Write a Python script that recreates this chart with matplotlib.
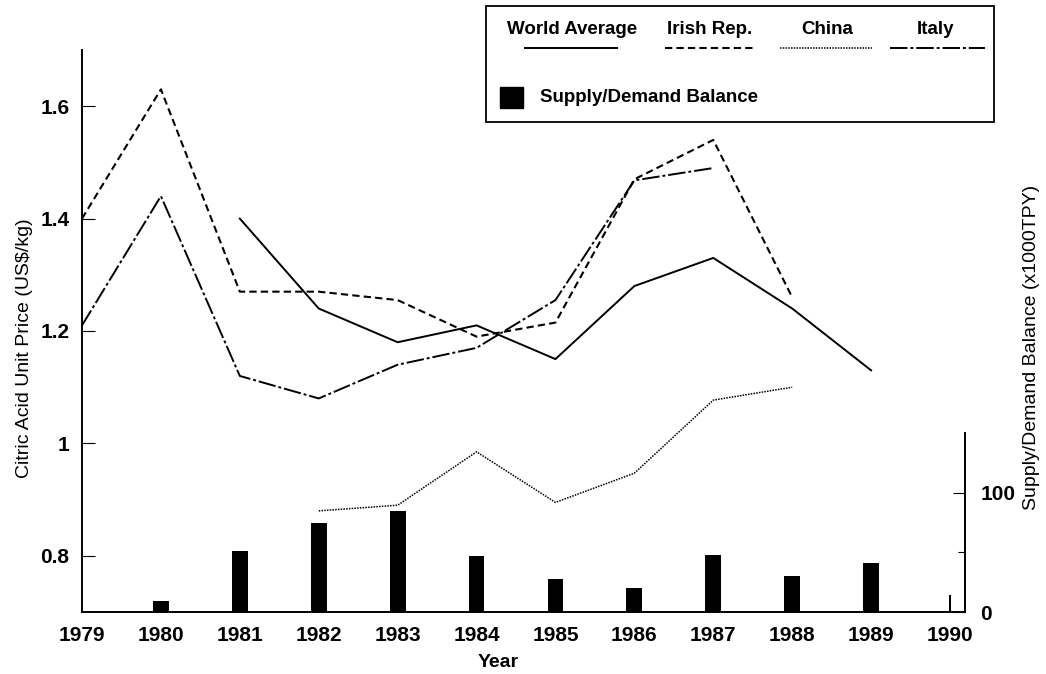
import numpy as np
import matplotlib
matplotlib.use("Agg")
import matplotlib.pyplot as plt
from matplotlib.lines import Line2D
from matplotlib.patches import Rectangle
from matplotlib.ticker import FixedLocator

plt.rcParams['font.family'] = ['Liberation Sans', 'DejaVu Sans']

# data
years = list(range(1979, 1991))
world_years = [1981, 1982, 1983, 1984, 1985, 1986, 1987, 1988, 1989]
world_avg = [1.40, 1.24, 1.18, 1.21, 1.15, 1.28, 1.33, 1.24, 1.13]
irish_years = [1979, 1980, 1981, 1982, 1983, 1984, 1985, 1986, 1987, 1988]
irish = [1.40, 1.63, 1.27, 1.27, 1.255, 1.19, 1.215, 1.47, 1.54, 1.26]
china_years = [1982, 1983, 1984, 1985, 1986, 1987, 1988]
china = [0.88, 0.89, 0.985, 0.895, 0.947, 1.077, 1.10]
italy_years = [1979, 1980, 1981, 1982, 1983, 1984, 1985, 1986, 1987]
italy = [1.21, 1.44, 1.12, 1.08, 1.14, 1.17, 1.255, 1.468, 1.49]
bal_years = [1980, 1981, 1982, 1983, 1984, 1985, 1986, 1987, 1988, 1989, 1990]
balance = [9, 51, 75, 85, 47, 28, 20, 48, 30, 41, 14]

W, H = 1046, 674
fig = plt.figure(figsize=(W / 100, H / 100), dpi=100)
ax = fig.add_axes([82 / W, 1 - 612 / H, (965 - 82) / W, (612 - 50) / H])
ax2 = ax.twinx()

styles = {
    'world': dict(color='black', lw=1.4, ls='-'),
    'irish': dict(color='black', lw=1.5, ls=(0, (3.5, 2))),
    'china': dict(color='black', lw=1.1, ls=(0, (1, 0.8))),
    'italy': dict(color='black', lw=1.4, ls=(0, (9, 1.5, 1.5, 1.5))),
}

widths = [0.2] * (len(bal_years) - 1) + [0.025]
ax2.bar(bal_years, balance, width=widths, color='black', zorder=1)

ax.plot(world_years, world_avg, **styles['world'])
ax.plot(irish_years, irish, **styles['irish'])
ax.plot(china_years, china, **styles['china'])
ax.plot(italy_years, italy, **styles['italy'])
ax.set_zorder(ax2.get_zorder() + 1)
ax.patch.set_visible(False)

tick_font = dict(fontsize=15, fontweight='bold')
ax.set_xlim(1979, 1990.19)
ax.set_ylim(0.7, 1.7)
ax.set_xticks(years)
ax.set_xticklabels([str(y) for y in years], **tick_font)
ax.set_yticks([0.8, 1.0, 1.2, 1.4, 1.6])
ax.set_yticklabels(['0.8', '1', '1.2', '1.4', '1.6'], **tick_font)
ax.tick_params(axis='x', length=0, pad=10)
ax.tick_params(axis='y', direction='in', length=9, width=0.8, pad=9)
for s in ['top', 'right']:
    ax.spines[s].set_visible(False)
ax.spines['left'].set_linewidth(1.4)
ax.spines['bottom'].set_linewidth(1.4)

ax.set_xlabel('Year', fontsize=14, fontweight='bold')
ax.xaxis.set_label_coords(0.471, -0.075)
ax.set_ylabel('Citric Acid Unit Price (US$/kg)', fontsize=14)
ax.yaxis.set_label_coords(-0.056, 0.47)

ax2.set_ylim(0, 472)
ax2.yaxis.set_major_locator(FixedLocator([0, 100]))
ax2.yaxis.set_minor_locator(FixedLocator([50]))
ax2.set_yticklabels(['0', '100'], **tick_font)
ax2.tick_params(axis='y', which='major', direction='in', length=9, width=0.8, pad=11)
ax2.tick_params(axis='y', which='minor', direction='in', length=5, width=0.8)
for s in ['top', 'left', 'bottom']:
    ax2.spines[s].set_visible(False)
ax2.spines['right'].set_bounds(0, 150)
ax2.spines['right'].set_linewidth(1.4)
ax2.set_ylabel('Supply/Demand Balance (x1000TPY)', fontsize=14)
ax2.yaxis.set_label_coords(1.066, 0.47)


def fx(x):
    return x / W


def fy(y):
    return 1 - y / H


# hand-made legend box (labels above their line samples)
fig.add_artist(Rectangle((fx(486), fy(122)), fx(994 - 486), (122 - 6) / H,
                         fill=False, lw=1.3, ec='black', transform=fig.transFigure))
entries = [('World Average', 572, 525, 617, 'world'),
           ('Irish Rep.', 710, 665, 755, 'irish'),
           ('China', 827, 780, 872, 'china'),
           ('Italy', 936, 890, 985, 'italy')]
for label, cx, x0, x1, key in entries:
    fig.text(fx(cx), fy(30), label, ha='center', va='center',
             fontsize=13.5, fontweight='bold')
    fig.add_artist(Line2D([fx(x0), fx(x1)], [fy(48), fy(48)],
                          transform=fig.transFigure, **styles[key]))
fig.add_artist(Rectangle((fx(500), fy(108)), fx(23), 21 / H, color='black',
                         transform=fig.transFigure))
fig.text(fx(540), fy(97), 'Supply/Demand Balance', ha='left', va='center',
         fontsize=13.5, fontweight='bold')

fig.savefig('out.png', dpi=100)
